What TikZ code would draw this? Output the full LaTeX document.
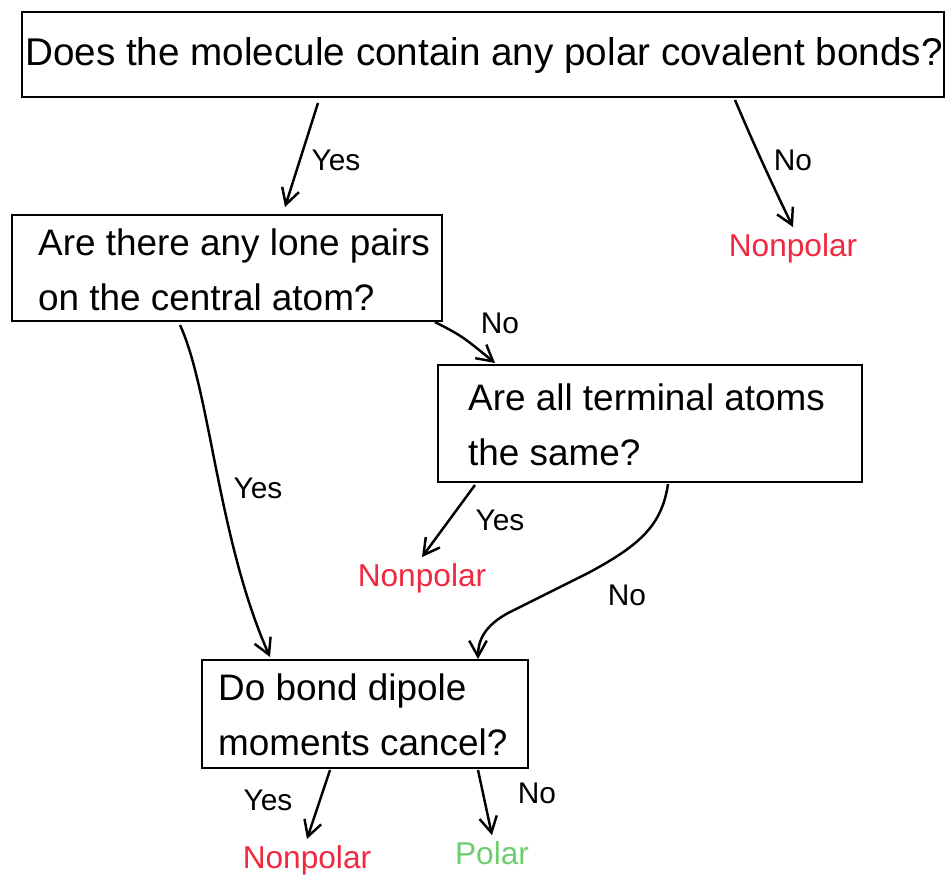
\documentclass[tikz,border=0pt]{standalone}
\usepackage{fontspec}
\setmainfont{Liberation Sans}
\usetikzlibrary{arrows.meta}
\definecolor{npred}{RGB}{240,40,64}
\definecolor{pgreen}{RGB}{110,205,110}
\begin{document}
\begin{tikzpicture}[x=0.02cm,y=-0.02cm,
  box/.style={draw,line width=1.6pt,inner sep=0pt},
  qtext/.style={font=\fontsize{21}{31}\selectfont,align=left,anchor=west},
  lbl/.style={font=\fontsize{17}{19}\selectfont},
  res/.style={font=\fontsize{18}{20}\selectfont},
  arr/.style={line width=1.4pt,-{Straight Barb[length=9pt,width=10pt]}}]
\useasboundingbox (0,0) rectangle (948,889);
% boxes
\node[box,minimum width=18.44cm,minimum height=1.7cm] (b1) at (483,54.5) {};
\node[font=\fontsize{22}{26}\selectfont] (t1) at (484,56) {Does the molecule contain any polar covalent bonds?};
\node[box,minimum width=8.6cm,minimum height=2.12cm] (b2) at (227,268) {};
\node[qtext] (t2) at (32,270) {Are there any lone pairs\\on the central atom?};
\node[box,minimum width=8.48cm,minimum height=2.34cm] (b3) at (650,423.5) {};
\node[qtext] (t3) at (462,425) {Are all terminal atoms\\the same?};
\node[box,minimum width=6.52cm,minimum height=2.16cm] (b4) at (365,714) {};
\node[qtext] (t4) at (212,715) {Do bond dipole\\moments cancel?};
% results
\node[res,text=npred] (r1) at (793,248) {Nonpolar};
\node[res,text=npred] (r2) at (422,578) {Nonpolar};
\node[res,text=npred] (r3) at (307,860) {Nonpolar};
\node[res,text=pgreen] (r4) at (492,853) {Polar};
% connector ends
\coordinate (s1) at (318,103);
\coordinate (e1) at (285,207);
\coordinate (s2) at (735,100);
\coordinate (s3) at (435,322);
\coordinate (e3) at (495,363);
\coordinate (s4) at (180,325);
\coordinate (e4) at (270,657);
\coordinate (s5) at (475,485);
\coordinate (s6) at (668,484);
\coordinate (e6) at (478,659);
\coordinate (s7) at (330,770);
\coordinate (s8) at (478,770);
% connectors
\draw[arr] (s1) -- (e1);
\draw[arr] (s2) .. controls (752,140) and (770,180) .. (r1.north);
\draw[arr] (s3) .. controls (462,336) .. (e3);
\draw[arr] (s4) .. controls (210,390) and (218,540) .. (e4);
\draw[arr] (s5) -- (r2.north);
\draw[arr] (s6) .. controls (662,525) and (640,545) .. (590,572) -- (510,612) .. controls (485,625) and (478,640) .. (e6);
\draw[arr] (s7) -- (r3.north);
\draw[arr] (s8) -- (r4.north);
% labels
\node[lbl] (l1) at (336,160) {Yes};
\node[lbl] (l2) at (793,160) {No};
\node[lbl] (l3) at (500,323) {No};
\node[lbl] (l4) at (258,488) {Yes};
\node[lbl] (l5) at (500,520) {Yes};
\node[lbl] (l6) at (627,595) {No};
\node[lbl] (l7) at (268,800) {Yes};
\node[lbl] (l8) at (537,793) {No};
\end{tikzpicture}
\end{document}
